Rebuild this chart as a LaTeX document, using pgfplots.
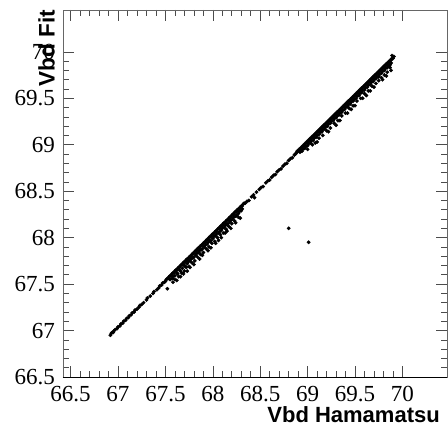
\documentclass[border=0pt]{standalone}
\usepackage{fontspec}
\setmainfont{Liberation Serif}
\newfontfamily\titlefont{Liberation Sans}
\usepackage{pgfplots}
\pgfplotsset{compat=1.18}
\begin{document}
\begin{tikzpicture}
\begin{axis}[
 scale only axis, width=384bp, height=367bp,
 xmin=66.42, xmax=70.47, ymin=66.5, ymax=70.45,
 xtick={66.5,67,67.5,68,68.5,69,69.5,70},
 ytick={66.5,67,67.5,68,68.5,69,69.5,70},
 xticklabels={66.5,67,67.5,68,68.5,69,69.5,70},
 yticklabels={66.5,67,67.5,68,68.5,69,69.5,70},
 minor x tick num=4, minor y tick num=4,
 xtick pos=both, ytick pos=both,
 tick align=inside,
 major tick length=11bp, minor tick length=6bp,
 every tick/.style={black!70, line width=0.6bp},
 axis line style={black!60, line width=0.8bp},
 xticklabel style={inner sep=0pt, yshift=-9.5bp, font=\fontsize{23bp}{23bp}\selectfont},
 yticklabel style={inner sep=0pt, xshift=-8bp, font=\fontsize{23bp}{23bp}\selectfont},
 clip=false,
]
\addplot[only marks, mark=*, mark size=1.7bp, black] table {
66.92 66.95
66.93 66.97
66.94 66.98
66.95 66.98
66.96 67.00
66.97 67.01
66.99 67.02
67.00 67.04
67.02 67.05
67.03 67.07
67.05 67.08
67.06 67.10
67.08 67.11
67.09 67.13
67.11 67.14
67.12 67.16
67.14 67.17
67.15 67.19
67.17 67.20
67.18 67.22
67.20 67.23
67.22 67.25
67.23 67.27
67.25 67.28
67.27 67.30
67.30 67.33
67.31 67.35
67.34 67.37
67.37 67.40
67.38 67.42
67.41 67.44
67.43 67.46
67.44 67.48
67.46 67.49
67.47 67.51
67.49 67.52
67.52 67.45
67.50 67.53
67.51 67.55
67.52 67.56
67.53 67.56
67.54 67.58
67.55 67.59
67.56 67.59
67.57 67.61
67.58 67.62
67.59 67.62
67.60 67.64
67.61 67.65
67.62 67.65
67.63 67.67
67.64 67.68
67.65 67.68
67.66 67.70
67.67 67.71
67.68 67.71
67.69 67.73
67.70 67.74
67.71 67.74
67.72 67.76
67.73 67.77
67.74 67.77
67.75 67.79
67.76 67.80
67.77 67.80
67.78 67.82
67.79 67.83
67.80 67.83
67.81 67.85
67.82 67.86
67.83 67.86
67.84 67.88
67.85 67.89
67.86 67.89
67.87 67.91
67.88 67.92
67.89 67.92
67.90 67.94
67.91 67.95
67.92 67.95
67.93 67.97
67.94 67.98
67.95 67.98
67.96 68.00
67.97 68.01
67.98 68.01
67.99 68.03
68.00 68.04
68.01 68.04
68.02 68.06
68.03 68.07
68.04 68.07
68.05 68.09
68.06 68.10
68.07 68.10
68.08 68.12
68.09 68.13
68.10 68.13
68.11 68.15
68.12 68.16
68.13 68.16
68.14 68.18
68.15 68.19
68.16 68.19
68.17 68.21
68.18 68.22
68.19 68.22
68.20 68.24
68.21 68.25
68.22 68.25
68.23 68.27
68.24 68.28
68.25 68.28
68.26 68.30
68.27 68.31
68.28 68.31
68.29 68.33
68.30 68.34
68.31 68.34
68.32 68.36
68.33 68.37
68.34 68.37
67.55 67.55
67.57 67.56
67.58 67.58
67.60 67.59
67.62 67.62
67.63 67.61
67.65 67.65
67.66 67.64
67.68 67.67
67.70 67.70
67.71 67.69
67.73 67.72
67.74 67.74
67.76 67.75
67.77 67.77
67.79 67.78
67.80 67.79
67.82 67.81
67.83 67.83
67.85 67.84
67.86 67.86
67.88 67.87
67.89 67.88
67.91 67.90
67.92 67.92
67.94 67.93
67.95 67.95
67.97 67.96
67.98 67.97
68.00 67.99
68.01 68.01
68.03 68.02
68.04 68.04
68.06 68.05
68.07 68.06
68.09 68.08
68.10 68.10
68.12 68.11
68.13 68.13
68.15 68.14
68.16 68.15
68.18 68.17
68.19 68.19
68.21 68.20
68.22 68.22
68.24 68.23
68.25 68.24
68.27 68.26
68.28 68.28
68.30 68.29
68.31 68.31
67.60 67.55
67.64 67.58
67.67 67.62
67.70 67.64
67.72 67.68
67.75 67.69
67.78 67.73
67.81 67.75
67.84 67.79
67.87 67.82
67.90 67.84
67.93 67.88
67.96 67.90
67.99 67.94
68.02 67.96
68.05 68.00
68.08 68.03
68.11 68.05
68.14 68.09
68.17 68.12
68.20 68.15
68.23 68.18
68.27 68.22
67.58 67.52
67.62 67.54
67.69 67.61
67.76 67.68
67.86 67.77
67.95 67.86
68.06 67.97
68.15 68.07
68.24 68.16
67.66 67.58
67.73 67.64
67.80 67.71
67.89 67.81
67.98 67.89
68.03 67.94
68.09 68.00
68.13 68.05
68.19 68.10
68.29 68.21
68.36 68.39
68.38 68.40
68.41 68.44
68.43 68.46
68.44 68.43
68.46 68.49
68.49 68.52
68.51 68.54
68.53 68.55
68.56 68.59
68.58 68.61
68.60 68.62
68.62 68.65
68.64 68.67
68.66 68.68
68.68 68.71
68.70 68.73
68.72 68.74
68.74 68.77
68.76 68.79
68.78 68.80
68.80 68.83
68.82 68.85
68.84 68.86
68.86 68.89
68.87 68.90
68.80 68.10
69.01 67.95
68.88 68.91
68.89 68.93
68.90 68.93
68.91 68.95
68.92 68.95
68.93 68.97
68.94 68.97
68.95 68.99
68.96 68.99
68.97 69.01
68.98 69.01
68.99 69.03
69.00 69.03
69.01 69.05
69.02 69.05
69.03 69.07
69.04 69.07
69.05 69.09
69.06 69.09
69.07 69.11
69.08 69.11
69.09 69.13
69.10 69.13
69.11 69.15
69.12 69.15
69.13 69.17
69.14 69.17
69.15 69.19
69.16 69.19
69.17 69.21
69.18 69.21
69.19 69.23
69.20 69.23
69.21 69.25
69.22 69.25
69.23 69.27
69.24 69.27
69.25 69.29
69.26 69.29
69.27 69.31
69.28 69.31
69.29 69.33
69.30 69.33
69.31 69.35
69.32 69.35
69.33 69.37
69.34 69.37
69.35 69.39
69.36 69.39
69.37 69.41
69.38 69.41
69.39 69.43
69.40 69.43
69.41 69.45
69.42 69.45
69.43 69.47
69.44 69.47
69.45 69.49
69.46 69.49
69.47 69.51
69.48 69.51
69.49 69.53
69.50 69.53
69.51 69.55
69.52 69.55
69.53 69.57
69.54 69.57
69.55 69.59
69.56 69.59
69.57 69.61
69.58 69.61
69.59 69.63
69.60 69.63
69.61 69.65
69.62 69.65
69.63 69.67
69.64 69.67
69.65 69.69
69.66 69.69
69.67 69.71
69.68 69.71
69.69 69.73
69.70 69.73
69.71 69.75
69.72 69.75
69.73 69.77
69.74 69.77
69.75 69.79
69.76 69.79
69.77 69.81
69.78 69.81
69.79 69.83
69.80 69.83
69.81 69.85
69.82 69.85
69.83 69.87
69.84 69.87
69.85 69.89
69.86 69.89
69.87 69.91
69.88 69.91
69.89 69.93
69.90 69.93
69.91 69.95
69.89 69.96
68.92 68.92
68.94 68.93
68.95 68.95
68.97 68.96
68.98 68.98
69.00 68.99
69.01 69.01
69.03 69.02
69.04 69.04
69.06 69.05
69.07 69.07
69.09 69.08
69.10 69.10
69.12 69.11
69.13 69.13
69.15 69.14
69.16 69.16
69.18 69.17
69.19 69.19
69.21 69.20
69.22 69.22
69.24 69.23
69.25 69.25
69.27 69.26
69.28 69.28
69.30 69.29
69.31 69.31
69.33 69.32
69.34 69.34
69.36 69.35
69.37 69.37
69.39 69.38
69.40 69.40
69.42 69.41
69.43 69.43
69.45 69.44
69.46 69.46
69.48 69.47
69.49 69.49
69.51 69.50
69.52 69.52
69.54 69.53
69.55 69.55
69.57 69.56
69.58 69.58
69.60 69.59
69.61 69.61
69.63 69.62
69.64 69.64
69.66 69.65
69.67 69.67
69.69 69.68
69.70 69.70
69.72 69.71
69.73 69.73
69.75 69.74
69.76 69.76
69.78 69.77
69.79 69.79
69.81 69.80
69.82 69.82
69.84 69.83
69.85 69.85
69.87 69.86
69.88 69.88
69.00 68.95
69.05 69.00
69.08 69.02
69.12 69.07
69.16 69.10
69.20 69.15
69.24 69.18
69.28 69.23
69.32 69.26
69.36 69.31
69.40 69.34
69.44 69.39
69.48 69.42
69.52 69.47
69.56 69.50
69.60 69.55
69.64 69.58
69.68 69.63
69.72 69.66
69.75 69.69
69.75 69.73
69.78 69.72
69.81 69.75
69.84 69.78
69.87 69.83
69.88 69.80
69.86 69.84
69.62 69.53
69.46 69.38
69.30 69.21
69.10 69.03
69.22 69.14
69.34 69.26
69.42 69.34
69.50 69.42
69.58 69.50
69.66 69.58
69.70 69.62
69.79 69.70
69.83 69.74
};
\draw[black, line width=1bp] (rel axis cs:0,0) -- (rel axis cs:1,0);
\node[anchor=base east, inner sep=0pt, font=\titlefont\bfseries\fontsize{22bp}{22bp}\selectfont]
  at ([xshift=-7bp,yshift=-45bp]rel axis cs:1,0) {Vbd Hamamatsu};
\node[rotate=90, anchor=south east, inner sep=0pt, font=\titlefont\bfseries\fontsize{22.5bp}{22.5bp}\selectfont]
  at ([xshift=-8bp]rel axis cs:0,1) {Vbd Fit};
\end{axis}
\pgfresetboundingbox
\path[use as bounding box] ([xshift=-63bp,yshift=-52bp]current axis.south west) rectangle ([xshift=1bp,yshift=10bp]current axis.north east);
\end{tikzpicture}
\end{document}
